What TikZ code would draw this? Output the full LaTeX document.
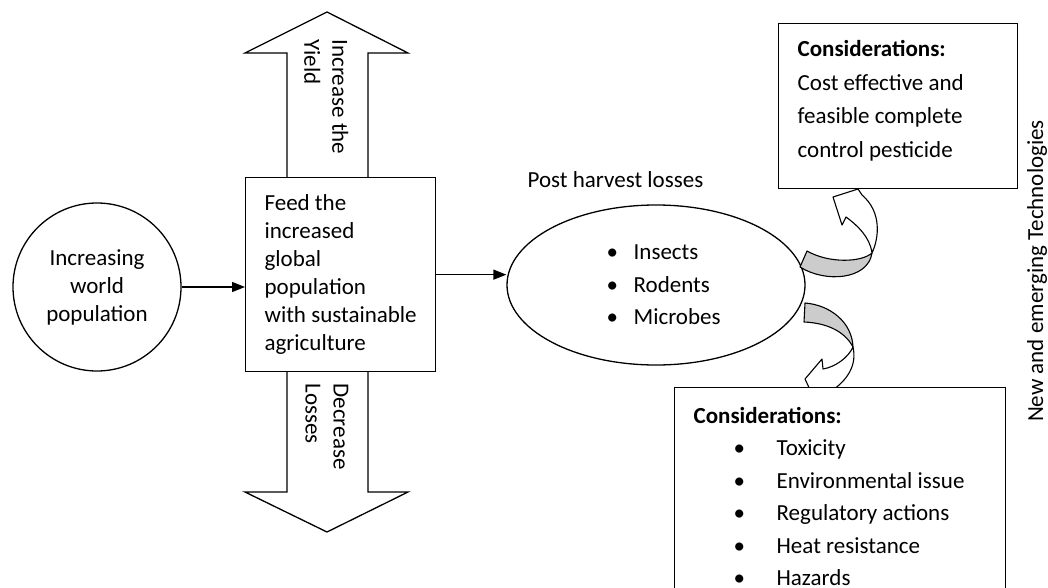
\documentclass[tikz,border=0pt]{standalone}
\usepackage{fontspec}
\setmainfont{Carlito}
\usetikzlibrary{arrows.meta,shapes.geometric}
\definecolor{ribbon}{RGB}{204,204,204}
\begin{document}
\begin{tikzpicture}[x=1pt,y=-1pt,line width=1.3pt,
  txt/.style={font=\fontsize{23}{28}\selectfont},
  boxtxt/.style={font=\fontsize{23}{#1}\selectfont,align=left,inner sep=0pt,anchor=north west},
  conn/.style={-{Triangle[length=13pt,width=10pt]}},
  ribbonline/.style={line width=1.1pt,line join=round},
  bigarrow/.style={draw,fill=white,line join=miter}]
\useasboundingbox (0,0) rectangle (1048,588);
\clip (0,0) rectangle (1048,588);

% big vertical double arrow (drawn behind the central box)
\draw[bigarrow] (287,190) -- (287,53) -- (245,53) -- (327,12) -- (408,53) -- (368,53) -- (368,190) -- cycle;
\draw[bigarrow] (287,360) -- (287,492) -- (245,492) -- (327,532) -- (408,492) -- (368,492) -- (368,360) -- cycle;
\node[boxtxt=28,rotate=-90] (yield) at (349,39) {Increase the\\Yield};
\node[boxtxt=28,rotate=-90] (losses) at (349,383) {Decrease\\Losses};

% left circle and central box
\node[draw,circle,minimum size=168pt,inner sep=0pt,txt,align=center] (pop) at (97,287) {Increasing\\world\\population};
\node[draw,fill=white,minimum width=190pt,minimum height=194pt,anchor=north west,txt,align=left] (feed) at (245,177)
  {Feed the\\increased\\global\\population\\with sustainable\\agriculture};

% ellipse
\node[draw,ellipse,minimum width=298pt,minimum height=160pt,inner sep=0pt] (ell) at (656,285) {};
\node[txt,anchor=base west,inner sep=0pt] (phl) at (527,187) {Post harvest losses};
\node[boxtxt=32.5] (pests) at (606,244.5)
  {\makebox[27pt][l]{•}Insects\\\makebox[27pt][l]{•}Rodents\\\makebox[27pt][l]{•}Microbes};

% connectors
\draw[conn] (pop.east) -- (pop.east -| feed.west);
\draw[conn] (feed.east) -- (feed.east -| ell.west);

% upper curved ribbon arrow
\draw[ribbonline,fill=ribbon] (800,267) .. controls (825,283) and (868,280) .. (872,253)
  .. controls (862,262) and (830,264) .. (807,251) -- cycle;
\draw[ribbonline,fill=white] (872,253) .. controls (879,238) and (882,212) .. (862,195)
  -- (858,189) -- (833,197) -- (842,225) -- (846,217)
  .. controls (857,225) and (870,237) .. (872,253) -- cycle;

% lower curved ribbon arrow
\draw[ribbonline,fill=ribbon] (805,303) .. controls (830,305) and (852,322) .. (853,347)
  .. controls (845,332) and (828,323) .. (804,322) -- cycle;
\draw[ribbonline,fill=white] (853,347) .. controls (857,365) and (848,380) .. (830,392)
  -- (812,394) -- (805,379) -- (822,359) -- (823,369)
  .. controls (835,367) and (848,358) .. (853,347) -- cycle;

% consideration boxes
\node[draw,fill=white,minimum width=239pt,minimum height=165pt,anchor=north west] (topbox) at (778,23) {};
\node[boxtxt=33.5] (toptxt) at (797,40)
  {\textbf{Considerations:}\\Cost effective and\\feasible complete\\control pesticide};
\node[draw,fill=white,minimum width=331pt,minimum height=230pt,anchor=north west] (botbox) at (674,387) {};
\node[boxtxt=32.5] (bottxt) at (693,406.5)
  {\textbf{Considerations:}\\
   \hspace*{40pt}\makebox[43pt][l]{•}Toxicity\\
   \hspace*{40pt}\makebox[43pt][l]{•}Environmental issue\\
   \hspace*{40pt}\makebox[43pt][l]{•}Regulatory actions\\
   \hspace*{40pt}\makebox[43pt][l]{•}Heat resistance\\
   \hspace*{40pt}\makebox[43pt][l]{•}Hazards};

% side label
\node[txt,rotate=90,anchor=base,inner sep=0pt] (tech) at (1043,271) {New and emerging Technologies};
\end{tikzpicture}
\end{document}
